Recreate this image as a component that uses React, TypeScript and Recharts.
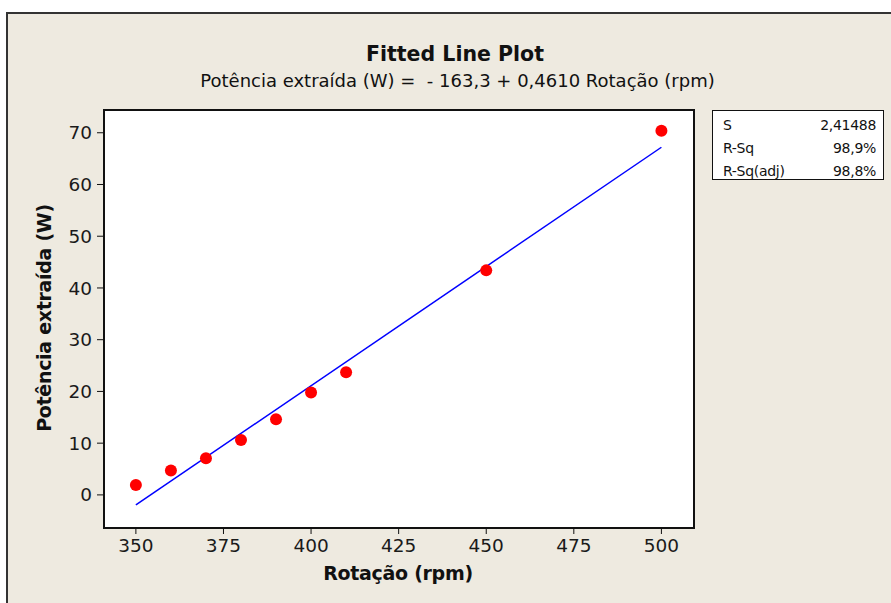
import {
  ComposedChart,
  CartesianGrid,
  Line,
  ReferenceArea,
  Scatter,
  XAxis,
  YAxis,
} from "recharts";

// observed points
const rotacao = [350, 360, 370, 380, 390, 400, 410, 450, 500];
const potencia = [1.9, 4.7, 7.1, 10.6, 14.6, 19.8, 23.7, 43.4, 70.4];

// fitted line endpoints: -163,3 + 0,4610 x
const fitX = [350, 500];
const fitY = [-1.95, 67.2];

const xTicks = [350, 375, 400, 425, 450, 475, 500];
const yTicks = [0, 10, 20, 30, 40, 50, 60, 70];

const stats = [
  ["S", "2,41488"],
  ["R-Sq", "98,9%"],
  ["R-Sq(adj)", "98,8%"],
];

const points = rotacao.map((x, i) => ({ x, y: potencia[i] }));
const fit = fitX.map((x, i) => ({ x, y: fitY[i] }));

const FONT = "DejaVu Sans, Verdana, sans-serif";
const BG = "#eeeae0";
const X_DOMAIN: [number, number] = [340.9, 509.3];
const Y_DOMAIN: [number, number] = [-6.4, 74.4];

const tickStyle = { fill: "#1a1a1a", fontSize: 18.5, fontFamily: FONT };

export default function App() {
  return (
    <div
      style={{
        position: "absolute",
        left: 0,
        top: 0,
        width: 891,
        height: 603,
        background: "#fff",
        overflow: "hidden",
        fontFamily: FONT,
        color: "#111",
      }}
    >
      <div
        style={{
          position: "absolute",
          left: 6,
          top: 12,
          width: 920,
          height: 620,
          background: BG,
          border: "2px solid #333",
        }}
      />
      <div
        style={{
          position: "absolute",
          left: 0,
          width: 910,
          top: 42,
          textAlign: "center",
          fontWeight: "bold",
          fontSize: 20.5,
        }}
      >
        Fitted Line Plot
      </div>
      <div
        style={{
          position: "absolute",
          left: 0,
          width: 915,
          top: 70,
          textAlign: "center",
          fontSize: 18,
          whiteSpace: "pre",
        }}
      >
        {"Potência extraída (W) =  - 163,3 + 0,4610 Rotação (rpm)"}
      </div>

      <div style={{ position: "absolute", left: 0, top: 0 }}>
        <ComposedChart
          width={891}
          height={603}
          margin={{ top: 110, right: 197, bottom: 35, left: 44 }}
        >
          <CartesianGrid
            horizontal={false}
            vertical={false}
            fill="#fff"
            fillOpacity={1}
          />
          <XAxis
            type="number"
            dataKey="x"
            domain={X_DOMAIN}
            ticks={xTicks}
            allowDataOverflow
            height={40}
            tickSize={6}
            tickMargin={5}
            tick={tickStyle}
            axisLine={{ stroke: "#111", strokeWidth: 2 }}
            tickLine={{ stroke: "#111" }}
          />
          <YAxis
            type="number"
            dataKey="y"
            domain={Y_DOMAIN}
            ticks={yTicks}
            allowDataOverflow
            width={60}
            tickSize={7}
            tickMargin={5}
            tick={tickStyle}
            axisLine={{ stroke: "#111", strokeWidth: 2 }}
            tickLine={{ stroke: "#111" }}
          />
          <ReferenceArea
            x1={X_DOMAIN[0]}
            x2={X_DOMAIN[1]}
            y1={Y_DOMAIN[0]}
            y2={Y_DOMAIN[1]}
            fill="none"
            stroke="#111"
            strokeWidth={2}
          />
          <Line
            data={fit}
            dataKey="y"
            type="linear"
            stroke="#0000ff"
            strokeWidth={1.5}
            dot={false}
            activeDot={false}
            isAnimationActive={false}
          />
          <Scatter
            data={points}
            dataKey="y"
            fill="#ff0000"
            shape={(p: any) => <circle cx={p.cx} cy={p.cy} r={6} fill="#ff0000" />}
            isAnimationActive={false}
          />
        </ComposedChart>
      </div>

      <div
        style={{
          position: "absolute",
          left: 44,
          top: 318,
          width: 0,
          height: 0,
        }}
      >
        <div
          style={{
            position: "absolute",
            left: -150,
            top: -12,
            width: 300,
            height: 24,
            lineHeight: "24px",
            textAlign: "center",
            fontWeight: "bold",
            fontSize: 19,
            letterSpacing: -0.3,
            transform: "rotate(-90deg)",
            transformOrigin: "150px 12px",
          }}
        >
          Potência extraída (W)
        </div>
      </div>
      <div
        style={{
          position: "absolute",
          left: 248,
          width: 300,
          top: 562,
          textAlign: "center",
          fontWeight: "bold",
          fontSize: 19,
          letterSpacing: -0.3,
        }}
      >
        Rotação (rpm)
      </div>

      <div
        style={{
          position: "absolute",
          left: 712,
          top: 110,
          width: 172,
          height: 70,
          background: "#fff",
          border: "1.5px solid #111",
          fontSize: 14,
          letterSpacing: -0.3,
          boxSizing: "border-box",
          padding: "3px 7px 0 10px",
        }}
      >
        {stats.map(([k, v]) => (
          <div
            key={k}
            style={{
              display: "flex",
              justifyContent: "space-between",
              height: 23,
              lineHeight: "23px",
            }}
          >
            <span>{k}</span>
            <span>{v}</span>
          </div>
        ))}
      </div>
    </div>
  );
}
